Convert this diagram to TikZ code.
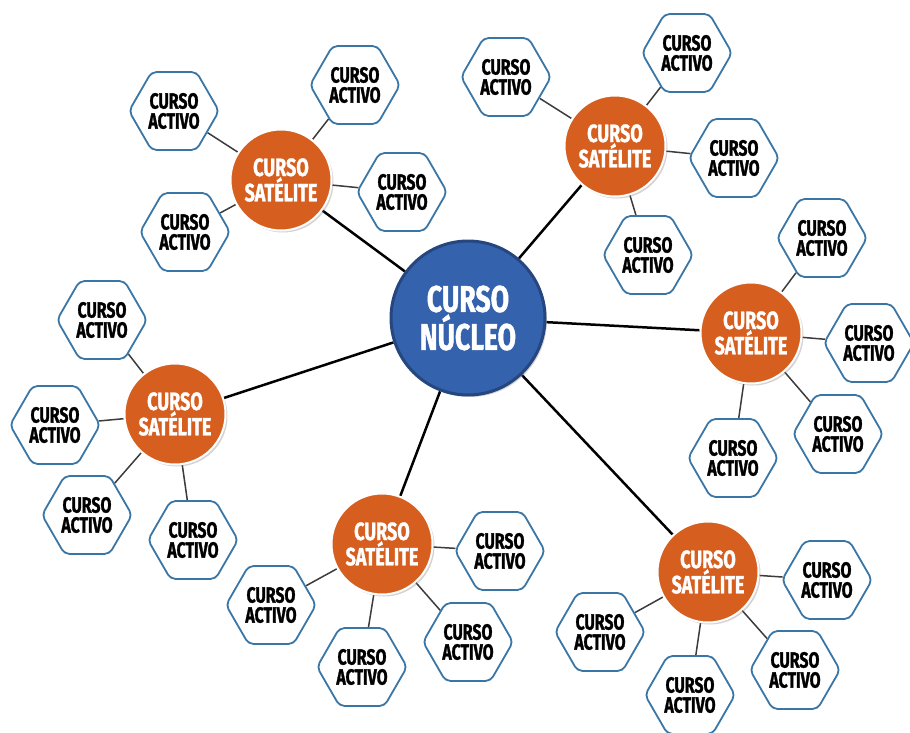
\documentclass[tikz,border=0pt]{standalone}
\usepackage{fontspec}
\newfontfamily\cursofont[FakeStretch=0.72, FakeBold=1.2]{Fira Sans}
\usetikzlibrary{shapes.geometric,shadows,backgrounds}
\definecolor{nucleoblue}{RGB}{52,98,172}
\definecolor{nucleoedge}{RGB}{38,70,128}
\definecolor{sateorange}{RGB}{214,94,30}
\definecolor{hexedge}{RGB}{58,118,165}
\definecolor{ramagray}{RGB}{60,60,60}

\begin{document}
\begin{tikzpicture}[x=1pt, y=-1pt,
    nucleo/.style={circle, draw=nucleoedge, line width=3pt, fill=nucleoblue, minimum size=154pt, text=white, align=center, font=\cursofont\bfseries\fontsize{37}{38}\selectfont, drop shadow={opacity=0.35, shadow xshift=2pt, shadow yshift=-2pt}},
    satelite/.style={circle, draw=white, line width=2pt, fill=sateorange, minimum size=101pt, text=white, align=center, font=\cursofont\bfseries\fontsize{25}{22}\selectfont, drop shadow={opacity=0.35, shadow xshift=2pt, shadow yshift=-2pt}},
    activo/.style={regular polygon, regular polygon sides=6, minimum size=90pt, inner sep=0pt, draw=hexedge, line width=1.8pt, fill=white, rounded corners=5pt, align=center, font=\cursofont\bfseries\fontsize{22}{20}\selectfont},
    enlace/.style={line width=2.5pt, black},
    rama/.style={line width=1.5pt, ramagray}
]
\useasboundingbox (0,0) rectangle (910,733);

\node[nucleo] (nuc) at (468,318) {CURSO\\NÚCLEO};

\node[satelite] (s1) at (281,180) {CURSO\\SATÉLITE};
\node[satelite] (s2) at (615,146) {CURSO\\SATÉLITE};
\node[satelite] (s3) at (751,333) {CURSO\\SATÉLITE};
\node[satelite] (s4) at (175,414) {CURSO\\SATÉLITE};
\node[satelite] (s5) at (382,544) {CURSO\\SATÉLITE};
\node[satelite] (s6) at (708,572) {CURSO\\SATÉLITE};

\node[activo] (a11) at (174,111) {CURSO\\ACTIVO};
\node[activo] (a12) at (355,85) {CURSO\\ACTIVO};
\node[activo] (a13) at (402,192) {CURSO\\ACTIVO};
\node[activo] (a14) at (185,232) {CURSO\\ACTIVO};

\node[activo] (a21) at (506,77) {CURSO\\ACTIVO};
\node[activo] (a22) at (687,53) {CURSO\\ACTIVO};
\node[activo] (a23) at (734,158) {CURSO\\ACTIVO};
\node[activo] (a24) at (648,255) {CURSO\\ACTIVO};

\node[activo] (a31) at (822,238) {CURSO\\ACTIVO};
\node[activo] (a32) at (869,343) {CURSO\\ACTIVO};
\node[activo] (a33) at (838,434) {CURSO\\ACTIVO};
\node[activo] (a34) at (733,458) {CURSO\\ACTIVO};

\node[activo] (a41) at (102,320) {CURSO\\ACTIVO};
\node[activo] (a42) at (55,425) {CURSO\\ACTIVO};
\node[activo] (a43) at (87,515) {CURSO\\ACTIVO};
\node[activo] (a44) at (193,540) {CURSO\\ACTIVO};

\node[activo] (a51) at (500,551) {CURSO\\ACTIVO};
\node[activo] (a52) at (271,605) {CURSO\\ACTIVO};
\node[activo] (a53) at (468,642) {CURSO\\ACTIVO};
\node[activo] (a54) at (362,667) {CURSO\\ACTIVO};

\node[activo] (a61) at (827,580) {CURSO\\ACTIVO};
\node[activo] (a62) at (600,632) {CURSO\\ACTIVO};
\node[activo] (a63) at (795,670) {CURSO\\ACTIVO};
\node[activo] (a64) at (690,695) {CURSO\\ACTIVO};

\begin{scope}[on background layer]
\draw[enlace] (nuc) -- (s1);
\draw[enlace] (nuc) -- (s2);
\draw[enlace] (nuc) -- (s3);
\draw[enlace] (nuc) -- (s4);
\draw[enlace] (nuc) -- (s5);
\draw[enlace] (nuc) -- (s6);

\draw[rama] (s1) -- (a11);
\draw[rama] (s1) -- (a12);
\draw[rama] (s1) -- (a13);
\draw[rama] (s1) -- (a14);
\draw[rama] (s2) -- (a21);
\draw[rama] (s2) -- (a22);
\draw[rama] (s2) -- (a23);
\draw[rama] (s2) -- (a24);
\draw[rama] (s3) -- (a31);
\draw[rama] (s3) -- (a32);
\draw[rama] (s3) -- (a33);
\draw[rama] (s3) -- (a34);
\draw[rama] (s4) -- (a41);
\draw[rama] (s4) -- (a42);
\draw[rama] (s4) -- (a43);
\draw[rama] (s4) -- (a44);
\draw[rama] (s5) -- (a51);
\draw[rama] (s5) -- (a52);
\draw[rama] (s5) -- (a53);
\draw[rama] (s5) -- (a54);
\draw[rama] (s6) -- (a61);
\draw[rama] (s6) -- (a62);
\draw[rama] (s6) -- (a63);
\draw[rama] (s6) -- (a64);
\end{scope}
\end{tikzpicture}
\end{document}
